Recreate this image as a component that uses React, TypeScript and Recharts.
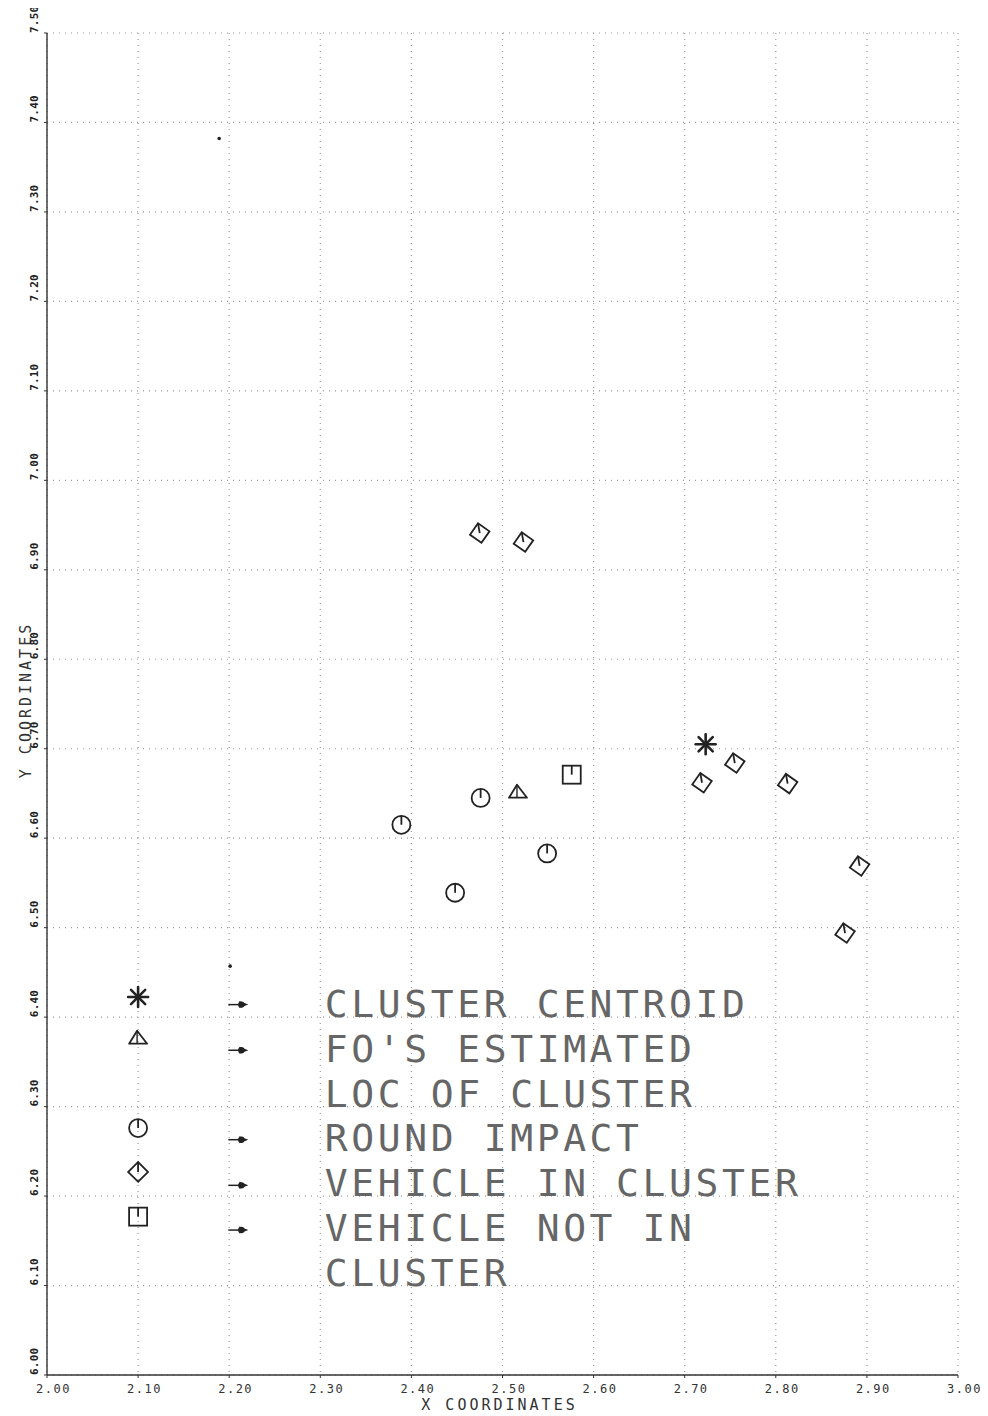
import React from 'react';
import { ScatterChart, Scatter, XAxis, YAxis, CartesianGrid, Label } from 'recharts';

const xTicks = [2.0, 2.1, 2.2, 2.3, 2.4, 2.5, 2.6, 2.7, 2.8, 2.9, 3.0];
const yTicks = [6.0, 6.1, 6.2, 6.3, 6.4, 6.5, 6.6, 6.7, 6.8, 6.9, 7.0, 7.1, 7.2, 7.3, 7.4, 7.5];

const roundImpacts = [
  { x: 2.476, y: 6.645 },
  { x: 2.389, y: 6.615 },
  { x: 2.549, y: 6.583 },
  { x: 2.448, y: 6.539 },
];
const vehiclesInCluster = [
  { x: 2.475, y: 6.941 },
  { x: 2.523, y: 6.931 },
  { x: 2.719, y: 6.662 },
  { x: 2.755, y: 6.684 },
  { x: 2.813, y: 6.661 },
  { x: 2.892, y: 6.569 },
  { x: 2.876, y: 6.494 },
];
const clusterCentroid = [{ x: 2.723, y: 6.705 }];
const foEstimate = [{ x: 2.517, y: 6.652 }];
const vehiclesNotInCluster = [{ x: 2.576, y: 6.671 }];
const strayDots = [
  { x: 2.189, y: 7.382 },
  { x: 2.201, y: 6.457 },
];

const legendSymbols = [
  { x: 2.1, y: 6.4225, kind: 'star' },
  { x: 2.1, y: 6.377, kind: 'triangle' },
  { x: 2.1, y: 6.276, kind: 'circle' },
  { x: 2.1, y: 6.227, kind: 'diamond' },
  { x: 2.1, y: 6.177, kind: 'square' },
];
const legendArrows = [
  { x: 2.21, y: 6.414 },
  { x: 2.21, y: 6.363 },
  { x: 2.21, y: 6.263 },
  { x: 2.21, y: 6.212 },
  { x: 2.21, y: 6.162 },
];
const legendLines = [
  { x: 2.305, y: 6.4, label: 'CLUSTER CENTROID' },
  { x: 2.305, y: 6.35, label: "FO'S ESTIMATED" },
  { x: 2.305, y: 6.3, label: 'LOC OF CLUSTER' },
  { x: 2.305, y: 6.25, label: 'ROUND IMPACT' },
  { x: 2.305, y: 6.2, label: 'VEHICLE IN CLUSTER' },
  { x: 2.305, y: 6.15, label: 'VEHICLE NOT IN' },
  { x: 2.305, y: 6.1, label: 'CLUSTER' },
];

const INK = '#222';
const MONO = '"DejaVu Sans Mono", "Liberation Mono", monospace';

const drawCircle = (cx: number, cy: number) => (
  <g>
    <circle cx={cx} cy={cy} r={9} fill="none" stroke={INK} strokeWidth={1.8} />
    <line x1={cx} y1={cy} x2={cx} y2={cy - 9} stroke={INK} strokeWidth={1.8} />
  </g>
);
const drawSquare = (cx: number, cy: number) => (
  <g>
    <rect x={cx - 9} y={cy - 9} width={18} height={18} fill="none" stroke={INK} strokeWidth={1.8} />
    <line x1={cx} y1={cy} x2={cx} y2={cy - 9} stroke={INK} strokeWidth={1.8} />
  </g>
);
const drawTriangle = (cx: number, cy: number) => (
  <g>
    <polygon
      points={`${cx - 9},${cy + 6} ${cx + 9},${cy + 6} ${cx - 1},${cy - 7}`}
      fill="none"
      stroke={INK}
      strokeWidth={1.8}
      strokeLinejoin="round"
    />
    <line x1={cx - 1} y1={cy + 6} x2={cx - 1} y2={cy - 7} stroke={INK} strokeWidth={1.4} />
  </g>
);
const drawDiamond = (cx: number, cy: number, angle: number) => (
  <g transform={`rotate(${angle}, ${cx}, ${cy})`}>
    <rect x={cx - 7} y={cy - 7} width={14} height={14} fill="none" stroke={INK} strokeWidth={1.8} />
    <line x1={cx} y1={cy} x2={cx - 7} y2={cy - 7} stroke={INK} strokeWidth={1.8} />
  </g>
);
const drawStar = (cx: number, cy: number) => {
  const r = 10;
  const d = r * 0.7071;
  return (
    <g stroke={INK} strokeWidth={2.6} strokeLinecap="round">
      <line x1={cx - r} y1={cy} x2={cx + r} y2={cy} />
      <line x1={cx} y1={cy - r} x2={cx} y2={cy + r} />
      <line x1={cx - d} y1={cy - d} x2={cx + d} y2={cy + d} />
      <line x1={cx - d} y1={cy + d} x2={cx + d} y2={cy - d} />
    </g>
  );
};

const CircleShape = (p: any) => drawCircle(p.cx, p.cy);
const SquareShape = (p: any) => drawSquare(p.cx, p.cy);
const TriangleShape = (p: any) => drawTriangle(p.cx, p.cy);
const DiamondShape = (p: any) => drawDiamond(p.cx, p.cy, 35);
const StarShape = (p: any) => drawStar(p.cx, p.cy);
const DotShape = (p: any) => <circle cx={p.cx} cy={p.cy} r={1.8} fill={INK} />;

const LegendSymbolShape = (p: any) => {
  const kind = p.payload?.kind;
  if (kind === 'star') return drawStar(p.cx, p.cy);
  if (kind === 'triangle') return drawTriangle(p.cx, p.cy);
  if (kind === 'circle') return drawCircle(p.cx, p.cy);
  if (kind === 'diamond') return drawDiamond(p.cx, p.cy, 45);
  return drawSquare(p.cx, p.cy);
};

const ArrowShape = (p: any) => (
  <g>
    <line x1={p.cx - 10} y1={p.cy} x2={p.cx + 3} y2={p.cy} stroke={INK} strokeWidth={1.5} />
    <polygon
      points={`${p.cx + 1},${p.cy - 3.5} ${p.cx + 10},${p.cy} ${p.cx + 1},${p.cy + 3.5}`}
      fill={INK}
    />
    <circle cx={p.cx + 3} cy={p.cy} r={3.2} fill={INK} />
  </g>
);

const LegendTextShape = (p: any) => (
  <text
    x={p.cx}
    y={p.cy}
    fontFamily={MONO}
    fontSize={38}
    letterSpacing={3.6}
    fill="#666"
  >
    {p.payload?.label}
  </text>
);

const fmt = (v: number) => Number(v).toFixed(2);

const XTick = (p: any) => (
  <text
    x={p.x - 11}
    y={p.y + 13}
    fontFamily={MONO}
    fontSize={12}
    letterSpacing={1.5}
    fill="#333"
    textAnchor="start"
  >
    {fmt(p.payload.value)}
  </text>
);

const YTick = (p: any) => {
  const x = p.x - 4;
  const y = p.y;
  return (
    <text
      x={x}
      y={y}
      transform={`rotate(-90, ${x}, ${y})`}
      fontFamily={MONO}
      fontSize={11}
      letterSpacing={0.2}
      fill="#222"
      fontWeight="bold"
      textAnchor="start"
    >
      {fmt(p.payload.value)}
    </text>
  );
};

export default function App() {
  return (
    <div style={{ width: 988, height: 1416, background: '#fff', margin: '-8px 0 0 -8px' }}>
      <ScatterChart
        width={988}
        height={1416}
        margin={{ top: 33, right: 30, bottom: 11, left: 17 }}
      >
        <CartesianGrid stroke="#9a9a9a" strokeDasharray="1 5" strokeWidth={1.2} />
        <XAxis
          type="number"
          dataKey="x"
          domain={[2, 3]}
          ticks={xTicks}
          interval={0}
          height={30}
          tickSize={3}
          tickMargin={2}
          axisLine={{ stroke: '#333', strokeWidth: 1.4 }}
          tickLine={{ stroke: '#333' }}
          tick={<XTick />}
          allowDataOverflow
        >
          <Label
            content={(props: any) => {
              const vb = props.viewBox || {};
              const cx = vb.x + vb.width / 2 - 3;
              return (
                <text
                  x={cx}
                  y={vb.y + 35}
                  textAnchor="middle"
                  fontFamily={MONO}
                  fontSize={15}
                  letterSpacing={3}
                  fill="#333"
                >
                  X COORDINATES
                </text>
              );
            }}
          />
        </XAxis>
        <YAxis
          type="number"
          dataKey="y"
          domain={[6, 7.5]}
          ticks={yTicks}
          interval={0}
          width={30}
          tickSize={3}
          tickMargin={2}
          axisLine={{ stroke: '#333', strokeWidth: 1.4 }}
          tickLine={{ stroke: '#333' }}
          tick={<YTick />}
          allowDataOverflow
        >
          <Label
            content={(props: any) => {
              const vb = props.viewBox || {};
              const x = vb.x + 14;
              const y = vb.y + vb.height / 2 - 4;
              return (
                <text
                  x={x}
                  y={y}
                  transform={`rotate(-90, ${x}, ${y})`}
                  textAnchor="middle"
                  fontFamily={MONO}
                  fontSize={15}
                  letterSpacing={3}
                  fill="#333"
                >
                  Y COORDINATES
                </text>
              );
            }}
          />
        </YAxis>
        <Scatter data={roundImpacts} shape={CircleShape} isAnimationActive={false} />
        <Scatter data={vehiclesInCluster} shape={DiamondShape} isAnimationActive={false} />
        <Scatter data={clusterCentroid} shape={StarShape} isAnimationActive={false} />
        <Scatter data={foEstimate} shape={TriangleShape} isAnimationActive={false} />
        <Scatter data={vehiclesNotInCluster} shape={SquareShape} isAnimationActive={false} />
        <Scatter data={strayDots} shape={DotShape} isAnimationActive={false} />
        <Scatter data={legendSymbols} shape={LegendSymbolShape} isAnimationActive={false} />
        <Scatter data={legendArrows} shape={ArrowShape} isAnimationActive={false} />
        <Scatter data={legendLines} shape={LegendTextShape} isAnimationActive={false} />
      </ScatterChart>
    </div>
  );
}
